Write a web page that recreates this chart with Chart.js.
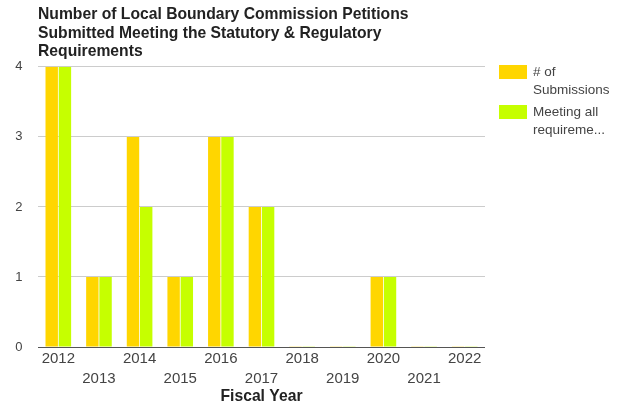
<!DOCTYPE html>
<html>
<head>
<meta charset="utf-8">
<script src="https://cdn.jsdelivr.net/npm/chart.js@4/dist/chart.umd.min.js"></script>
<style>
html,body{margin:0;padding:0;background:#fff;}
#wrap{width:626px;height:405px;position:relative;}
</style>
</head>
<body>
<div id="wrap"><canvas id="c" width="626" height="405"></canvas></div>
<script>
const categories = ['2012','2013','2014','2015','2016','2017','2018','2019','2020','2021','2022'];
const submissions = [4,1,3,1,3,2,0,0,1,0,0];
const meetingAll = [4,1,2,1,3,2,0,0,1,0,0];
const seriesNames = ['# of Submissions','Meeting all requirements'];
const legendLines = [['# of','Submissions'],['Meeting all','requireme...']];
const seriesColors = ['#FFD600','#C6FF00'];
const zeroColors = ['rgba(255,214,0,0.45)','rgba(198,255,0,0.45)'];
const yTicks = [0,1,2,3,4];
const titleLines = ['Number of Local Boundary Commission Petitions','Submitted Meeting the Statutory & Regulatory','Requirements'];
const xTitle = 'Fiscal Year';

const FONT = '"Liberation Sans", Arial, sans-serif';

const legendPlugin = {
  id: 'sideLegend',
  afterDraw(chart) {
    const ctx = chart.ctx;
    ctx.save();
    ctx.font = '13.5px ' + FONT;
    ctx.textBaseline = 'middle';
    ctx.textAlign = 'left';
    let y = 65;
    legendLines.forEach((lines, i) => {
      ctx.fillStyle = seriesColors[i];
      ctx.fillRect(499, y, 28, 14);
      ctx.fillStyle = '#444';
      lines.forEach((t, j) => ctx.fillText(t, 533, y + 7 + j * 18));
      y += 40;
    });
    ctx.restore();
  }
};

function barColor(i) {
  return c => (c.raw === 0 ? zeroColors[i] : seriesColors[i]);
}

new Chart(document.getElementById('c'), {
  type: 'bar',
  data: {
    labels: categories,
    datasets: [
      { label: seriesNames[0], data: submissions, backgroundColor: barColor(0), barPercentage: 0.94, categoryPercentage: 0.65, minBarLength: 1 },
      { label: seriesNames[1], data: meetingAll, backgroundColor: barColor(1), barPercentage: 0.94, categoryPercentage: 0.65, minBarLength: 1 }
    ]
  },
  plugins: [legendPlugin],
  options: {
    responsive: false,
    animation: false,
    layout: { padding: { left: 15, right: 141, top: 0, bottom: 2 } },
    plugins: {
      legend: { display: false },
      tooltip: { enabled: false },
      title: {
        display: true,
        fullSize: false,
        text: titleLines,
        align: 'start',
        color: '#222',
        font: { family: FONT, size: 15.7, weight: 'bold', lineHeight: 1.165 },
        padding: { top: 6, bottom: 6 }
      }
    },
    scales: {
      x: {
        grid: { display: false, drawTicks: false },
        border: { display: false },
        ticks: {
          autoSkip: false, maxRotation: 0, minRotation: 0,
          color: '#444',
          font: { family: FONT, size: 15, lineHeight: 1.333 },
          padding: 2,
          callback: function(v, i) { const l = categories[i]; return i % 2 === 0 ? l : ['', l]; }
        },
        title: {
          display: true, text: xTitle, color: '#222',
          font: { family: FONT, size: 15.7, weight: 'bold', lineHeight: 0.764 },
          padding: { top: 0, bottom: 0 }
        }
      },
      y: {
        min: 0, max: 4,
        afterBuildTicks: s => { s.ticks = yTicks.map(v => ({ value: v })); },
        afterFit: s => { s.width = 23; },
        grid: {
          drawTicks: false,
          color: c => c.tick && c.tick.value === 0 ? '#555' : '#ccc',
          lineWidth: 1
        },
        border: { display: false },
        ticks: { color: '#444', font: { family: FONT, size: 13 }, padding: 15.5 }
      }
    }
  }
});
</script>
</body>
</html>
